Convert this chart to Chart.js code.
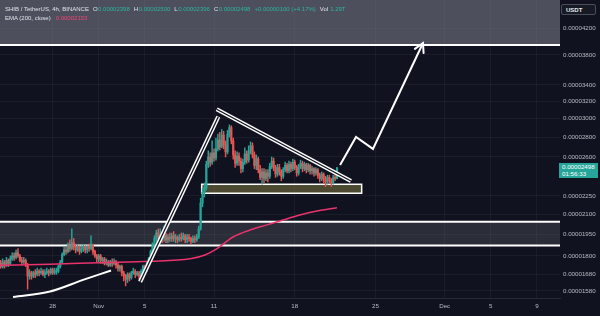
<!DOCTYPE html>
<html>
<head>
<meta charset="utf-8">
<script src="https://cdn.jsdelivr.net/npm/chart.js@4.4.1/dist/chart.umd.min.js"></script>
<style>
  html, body { margin: 0; padding: 0; background: #10131f; }
  #wrap { position: relative; width: 600px; height: 316px; overflow: hidden; }
  canvas { display: block; }
  #legend { position: absolute; left: 5px; top: 5px; font: 6px 'Liberation Sans', Arial, sans-serif; color: #e0e3ea; line-height: 8.5px; white-space: nowrap; }
  #legend .k { margin-left: 4px; }
  #legend .v { color: #2bb3a0; margin-left: 0.5px; }
  #legend .ema { color: #f0407a; margin-left: 5px; }
  #unit { position: absolute; left: 561px; top: 4px; width: 35px; height: 11px; border: 1px solid #4a4e5a; border-radius: 2px; background: #161a25;
          font: bold 6px 'Liberation Sans', Arial, sans-serif; color: #e8eaef; line-height: 11px; box-sizing: border-box; padding-left: 4px; }
  #priceTag { position: absolute; left: 559px; width: 39px; height: 15px; background: #26a69a; color: #fff;
              font: 6.2px 'Liberation Sans', Arial, sans-serif; line-height: 6.8px; padding: 1px 0 0 3px; box-sizing: border-box; }
</style>
</head>
<body>
<div id="wrap">
  <canvas id="chart" width="600" height="316"></canvas>
  <div id="legend">
    <div><span>SHIB / TetherUS, 4h, BINANCE</span><span class="k">O</span><span class="v" id="vO"></span><span class="k">H</span><span class="v" id="vH"></span><span class="k">L</span><span class="v" id="vL"></span><span class="k">C</span><span class="v" id="vC"></span><span class="v" id="vChg" style="margin-left:4px"></span><span class="k">Vol</span><span class="v" style="margin-left:2px">1.29T</span></div>
    <div><span>EMA (200, close)</span><span class="ema" id="vEma"></span></div>
  </div>
  <div id="unit">USDT</div>
  <div id="priceTag"><div id="tagPrice"></div><div>01:56:33</div></div>
</div>
<script>
// prices are in millionths of a USDT (17.5 = 0.00001750)
// 4h candles, first one Oct 23 12:00, x axis in days from Nov 1
const firstCandleDay = -8.5;
const candleStep = 1 / 6;

const opens = [
  17.5, 17.3, 17.6, 17.4, 17.7, 17.5, 17.8, 18.0, 17.9, 18.2,
  18.0, 17.7, 17.6, 17.7, 17.4, 16.7, 16.9, 16.7, 16.9, 16.8,
  17.0, 16.9, 17.0, 16.8, 16.9, 17.0, 16.9, 17.1, 16.9, 17.0,
  17.0, 17.3, 17.6, 18.1, 18.4, 18.3, 18.7, 18.5, 18.9, 18.6,
  18.4, 18.6, 18.3, 18.5, 18.6, 18.4, 18.6, 18.5, 18.7, 18.3,
  18.0, 17.8, 18.0, 17.7, 17.8, 17.5, 17.6, 17.4, 17.6, 17.5,
  17.6, 17.4, 17.2, 17.3, 16.9, 16.7, 16.5, 16.8, 16.6, 16.9,
  17.0, 16.8, 16.9, 16.7, 17.0, 17.3, 17.1, 17.5, 17.8, 18.3,
  18.8, 19.2, 19.6, 19.3, 19.5, 19.2, 19.4, 19.1, 19.3, 19.2,
  19.4, 19.2, 19.3, 19.1, 19.3, 19.2, 19.4, 19.1, 19.3, 19.2,
  19.0, 19.2, 19.1, 19.3, 19.9, 21.9, 22.8, 23.2, 25.3, 26.0,
  25.5, 26.4, 25.9, 26.8, 27.7, 27.0, 28.2, 27.2, 26.5, 28.3,
  29.0, 27.6, 26.2, 25.4, 26.1, 25.6, 24.9, 25.5, 26.3, 25.7,
  26.6, 27.1, 26.2, 25.2, 25.8, 24.8, 24.1, 24.6, 24.0, 24.5,
  24.2, 25.1, 25.6, 25.0, 24.4, 25.0, 24.6, 24.2, 24.8, 25.2,
  24.7, 25.3, 24.9, 25.5, 25.0, 24.5, 25.1, 25.4, 24.9, 25.3,
  24.8, 25.2, 24.7, 24.9, 24.5, 24.8, 24.3, 24.0, 24.4, 23.9,
  23.7, 24.1, 23.8, 23.6, 24.1, 23.98
];
const highs = [
  17.7, 17.8, 17.7, 17.9, 17.8, 18.0, 18.2, 18.2, 18.4, 18.5,
  18.1, 17.9, 17.9, 17.8, 17.5, 17.1, 17.0, 17.0, 17.1, 17.2,
  17.1, 17.2, 17.1, 17.1, 17.2, 17.1, 17.2, 17.2, 17.2, 17.2,
  17.4, 17.7, 18.2, 18.6, 18.6, 18.9, 19.1, 19.9, 19.2, 18.8,
  18.8, 18.7, 18.7, 18.8, 18.7, 18.7, 18.8, 19.4, 18.8, 18.4,
  18.1, 18.1, 18.1, 17.9, 17.9, 17.8, 17.7, 17.7, 17.8, 17.8,
  17.7, 17.5, 17.4, 17.4, 17.0, 16.8, 16.9, 16.9, 17.0, 17.2,
  17.1, 17.0, 17.0, 17.1, 17.4, 17.4, 17.6, 17.9, 18.4, 18.9,
  19.4, 19.8, 19.9, 19.9, 19.7, 20.1, 19.6, 19.5, 19.6, 19.6,
  19.7, 19.5, 19.4, 19.5, 19.6, 19.6, 19.5, 19.5, 19.5, 19.3,
  19.4, 19.4, 19.5, 20.1, 22.3, 23.1, 23.6, 25.6, 26.6, 26.4,
  27.6, 26.8, 27.9, 28.3, 28.5, 28.8, 28.6, 27.6, 28.7, 29.3,
  29.2, 27.9, 26.6, 26.5, 26.4, 25.9, 25.8, 26.9, 26.6, 27.1,
  27.5, 27.4, 26.5, 26.2, 26.0, 25.2, 24.9, 24.9, 24.8, 24.8,
  25.4, 26.0, 25.9, 25.2, 25.3, 25.3, 24.8, 25.0, 25.5, 25.4,
  25.6, 25.5, 25.8, 25.7, 25.2, 25.3, 25.7, 25.6, 25.5, 25.4,
  25.4, 25.3, 25.1, 25.0, 25.0, 24.9, 24.5, 24.6, 24.5, 24.2,
  24.3, 24.3, 24.0, 24.3, 24.4, 25.0
];
const lows = [
  17.2, 17.2, 17.2, 17.3, 17.3, 17.4, 17.7, 17.7, 17.8, 17.9,
  17.6, 17.4, 17.5, 17.3, 15.9, 16.5, 16.5, 16.6, 16.6, 16.7,
  16.7, 16.8, 16.7, 16.6, 16.8, 16.7, 16.8, 16.8, 16.8, 16.8,
  16.9, 17.2, 17.5, 18.0, 18.1, 18.2, 18.3, 18.4, 18.4, 18.2,
  18.3, 18.1, 18.2, 18.3, 18.2, 18.2, 18.3, 18.4, 18.1, 17.9,
  17.6, 17.6, 17.5, 17.5, 17.4, 17.4, 17.3, 17.3, 17.3, 17.4,
  17.2, 17.0, 17.0, 16.7, 16.4, 16.1, 16.3, 16.4, 16.5, 16.8,
  16.6, 16.7, 16.5, 16.6, 16.9, 17.0, 17.0, 17.4, 17.7, 18.2,
  18.7, 19.0, 19.1, 19.1, 18.9, 19.0, 18.9, 18.9, 19.0, 19.0,
  19.0, 18.9, 18.9, 19.0, 19.0, 19.1, 18.9, 18.9, 19.0, 18.8,
  18.9, 18.9, 19.0, 19.2, 19.8, 21.6, 22.4, 23.0, 25.0, 25.1,
  25.3, 25.6, 25.7, 26.6, 26.7, 26.9, 26.8, 26.0, 26.3, 28.0,
  27.3, 25.8, 25.0, 25.2, 25.2, 24.5, 24.6, 25.3, 25.4, 25.5,
  26.3, 25.9, 24.9, 24.8, 24.5, 23.9, 23.5, 23.6, 23.8, 23.7,
  24.0, 24.9, 24.7, 24.1, 24.2, 24.3, 23.8, 24.0, 24.6, 24.5,
  24.5, 24.6, 24.7, 24.8, 24.2, 24.3, 24.9, 24.6, 24.7, 24.5,
  24.6, 24.4, 24.4, 24.2, 24.3, 24.0, 23.7, 23.8, 23.6, 23.3,
  23.5, 23.6, 23.3, 23.5, 23.8, 23.96
];
const closes = [
  17.3, 17.6, 17.4, 17.7, 17.5, 17.8, 18.0, 17.9, 18.2, 18.0,
  17.7, 17.6, 17.7, 17.4, 16.7, 16.9, 16.7, 16.9, 16.8, 17.0,
  16.9, 17.0, 16.8, 16.9, 17.0, 16.9, 17.1, 16.9, 17.0, 17.0,
  17.3, 17.6, 18.1, 18.4, 18.3, 18.7, 18.5, 18.9, 18.6, 18.4,
  18.6, 18.3, 18.5, 18.6, 18.4, 18.6, 18.5, 18.7, 18.3, 18.0,
  17.8, 18.0, 17.7, 17.8, 17.5, 17.6, 17.4, 17.6, 17.5, 17.6,
  17.4, 17.2, 17.3, 16.9, 16.7, 16.5, 16.8, 16.6, 16.9, 17.0,
  16.8, 16.9, 16.7, 17.0, 17.3, 17.1, 17.5, 17.8, 18.3, 18.8,
  19.2, 19.6, 19.3, 19.5, 19.2, 19.4, 19.1, 19.3, 19.2, 19.4,
  19.2, 19.3, 19.1, 19.3, 19.2, 19.4, 19.1, 19.3, 19.2, 19.0,
  19.2, 19.1, 19.3, 19.9, 21.9, 22.8, 23.2, 25.3, 26.0, 25.5,
  26.4, 25.9, 26.8, 27.7, 27.0, 28.2, 27.2, 26.5, 28.3, 29.0,
  27.6, 26.2, 25.4, 26.1, 25.6, 24.9, 25.5, 26.3, 25.7, 26.6,
  27.1, 26.2, 25.2, 25.8, 24.8, 24.1, 24.6, 24.0, 24.5, 24.2,
  25.1, 25.6, 25.0, 24.4, 25.0, 24.6, 24.2, 24.8, 25.2, 24.7,
  25.3, 24.9, 25.5, 25.0, 24.5, 25.1, 25.4, 24.9, 25.3, 24.8,
  25.2, 24.7, 24.9, 24.5, 24.8, 24.3, 24.0, 24.4, 23.9, 23.7,
  24.1, 23.8, 23.6, 24.1, 23.98, 24.98
];

// EMA 200
const emaDays   = [-8.56, -4.22, 0.12, 4.45, 7.92, 9.22, 10.26, 11.64, 13.12, 14.59, 15.98, 17.45, 18.93, 20.66];
const emaValues = [17.38, 17.45, 17.55, 17.64, 17.81, 18.06, 18.49, 19.31, 19.82, 20.20, 20.57, 20.96, 21.27, 21.53];

const yTicks = [15.8, 16.8, 18, 19.5, 21, 22.5, 26, 28, 30, 32, 34, 38, 42];
const xTickDays = [-4, 0, 4, 10, 17, 24, 30, 34, 38];
const xTickLabels = ['28', 'Nov', '5', '11', '18', '25', 'Dec', '5', '9'];

// drawings (price levels / anchor points)
const resistanceZone = [39.43, 46.61];
const supportZone = [18.70, 20.44];
const baseBoxDays = [8.93, 22.8];
const baseBoxPrices = [22.72, 23.49];
const arcDays = [-7.43, -4.22, -1.36, 1.07];
const arcPrices = [15.45, 15.77, 16.46, 17.05];
const impulseDays = [3.59, 10.37];
const impulsePrices = [16.35, 30.20];
const wedgeDays = [10.23, 21.87];
const wedgePrices = [31.05, 23.78];
const pathDays = [20.93, 22.31, 23.78, 28.12];
const pathPrices = [25.24, 28.01, 26.79, 39.72];

const bg = '#10131f';
const gridColor = 'rgba(255,255,255,0.045)';
const labelColor = '#b9bcc4';
const upColor = '#26a69a';
const downColor = '#ef5350';
const emaColor = '#e8336d';

const fmt = v => (v / 1e6).toFixed(8);
const pts = (xs, ys) => xs.map((x, i) => ({ x, y: ys[i] }));

const candleDays = opens.map((_, i) => firstCandleDay + i * candleStep);
const candleColors = opens.map((o, i) => closes[i] >= o ? upColor : downColor);

// header values from the last candle
const last = closes.length - 1;
document.getElementById('vO').textContent = fmt(opens[last]);
document.getElementById('vH').textContent = fmt(highs[last]);
document.getElementById('vL').textContent = fmt(lows[last]);
document.getElementById('vC').textContent = fmt(closes[last]);
const chg = closes[last] - opens[last];
document.getElementById('vChg').textContent = '+' + fmt(chg) + ' (+' + (chg / opens[last] * 100).toFixed(2) + '%)';
document.getElementById('vEma').textContent = fmt(emaValues[emaValues.length - 1]);
document.getElementById('tagPrice').textContent = fmt(closes[last]);

const lineDs = (data, color, width, order, extra) => Object.assign({
  type: 'line', data, borderColor: color, borderWidth: width, pointRadius: 0,
  fill: false, tension: 0, order
}, extra || {});

const drawings = {
  id: 'drawings',
  beforeDatasetsDraw(chart) {
    const { ctx, chartArea: a, scales: { x, y } } = chart;
    ctx.save();
    ctx.beginPath();
    ctx.rect(a.left, a.top, a.width, a.height);
    ctx.clip();

    // top zone
    const rTop = y.getPixelForValue(resistanceZone[1]);
    const rBot = y.getPixelForValue(resistanceZone[0]);
    ctx.fillStyle = 'rgba(128,131,142,0.55)';
    ctx.fillRect(a.left, rTop, a.width, rBot - rTop);

    // support zone
    const sTop = y.getPixelForValue(supportZone[1]);
    const sBot = y.getPixelForValue(supportZone[0]);
    ctx.fillStyle = 'rgba(128,131,142,0.24)';
    ctx.fillRect(a.left, sTop, a.width, sBot - sTop);

    ctx.strokeStyle = '#ffffff';
    ctx.lineWidth = 2;
    [rBot, sTop, sBot].forEach(py => {
      ctx.beginPath();
      ctx.moveTo(a.left, py);
      ctx.lineTo(a.right, py);
      ctx.stroke();
    });

    // base box
    const bx1 = x.getPixelForValue(baseBoxDays[0]);
    const bx2 = x.getPixelForValue(baseBoxDays[1]);
    const by1 = y.getPixelForValue(baseBoxPrices[1]);
    const by2 = y.getPixelForValue(baseBoxPrices[0]);
    ctx.fillStyle = 'rgba(150,140,70,0.45)';
    ctx.fillRect(bx1, by1, bx2 - bx1, by2 - by1);
    ctx.lineWidth = 1.5;
    ctx.strokeRect(bx1, by1, bx2 - bx1, by2 - by1);
    ctx.restore();
  },
  afterDatasetsDraw(chart) {
    const { ctx } = chart;
    // arrow head at the end of the projected path
    const meta = chart.getDatasetMeta(chart.data.datasets.findIndex(d => d.label === 'path'));
    const p = meta.data;
    const tip = p[p.length - 1], prev = p[p.length - 2];
    const ang = Math.atan2(tip.y - prev.y, tip.x - prev.x);
    const len = 10;
    ctx.save();
    ctx.strokeStyle = '#ffffff';
    ctx.lineWidth = 2;
    ctx.lineCap = 'round';
    ctx.beginPath();
    ctx.moveTo(tip.x - len * Math.cos(ang - 0.5), tip.y - len * Math.sin(ang - 0.5));
    ctx.lineTo(tip.x, tip.y);
    ctx.lineTo(tip.x - len * Math.cos(ang + 0.5), tip.y - len * Math.sin(ang + 0.5));
    ctx.stroke();
    ctx.restore();
  },
  afterDraw(chart) {
    const py = chart.scales.y.getPixelForValue(closes[last]);
    document.getElementById('priceTag').style.top = (py - 4.5) + 'px';
  }
};

Chart.defaults.font.family = "'Liberation Sans', Arial, sans-serif";

new Chart(document.getElementById('chart'), {
  type: 'bar',
  data: {
    datasets: [
      lineDs(pts(pathDays, pathPrices), '#ffffff', 2, 0, { label: 'path', borderJoinStyle: 'miter' }),
      lineDs(pts(impulseDays, impulsePrices), bg, 1.3, 1),
      lineDs(pts(wedgeDays, wedgePrices), bg, 1.3, 1),
      lineDs(pts(impulseDays, impulsePrices), '#ffffff', 4.2, 2),
      lineDs(pts(wedgeDays, wedgePrices), '#ffffff', 4.2, 2),
      lineDs(pts(arcDays, arcPrices), '#ffffff', 2, 2, { tension: 0.4, cubicInterpolationMode: 'monotone' }),
      lineDs(pts(emaDays, emaValues), emaColor, 1.5, 3, { tension: 0.4, cubicInterpolationMode: 'monotone' }),
      {
        type: 'bar', label: 'body', order: 4, grouped: false,
        data: candleDays.map((d, i) => ({ x: d, y: [opens[i], closes[i]] })),
        backgroundColor: candleColors, barThickness: 1.5, minBarLength: 1
      },
      {
        type: 'bar', label: 'wick', order: 5, grouped: false,
        data: candleDays.map((d, i) => ({ x: d, y: [lows[i], highs[i]] })),
        backgroundColor: candleColors, barThickness: 0.8
      }
    ]
  },
  options: {
    responsive: false,
    animation: false,
    events: [],
    layout: { padding: 0 },
    plugins: { legend: { display: false }, tooltip: { enabled: false } },
    scales: {
      x: {
        type: 'linear', min: -8.56, max: 40, offset: false,
        grid: { color: gridColor, drawTicks: false, offset: false },
        border: { display: true, color: '#252936' },
        afterBuildTicks: s => { s.ticks = xTickDays.map(v => ({ value: v })); },
        afterFit: s => { s.height = 18; s.paddingLeft = 0; s.paddingRight = 0; },
        ticks: {
          autoSkip: false, maxRotation: 0, padding: 5, color: labelColor, font: { size: 6.2 },
          callback: v => { const k = xTickDays.indexOf(v); return k >= 0 ? xTickLabels[k] : ''; }
        }
      },
      y: {
        type: 'logarithmic', position: 'right', min: 15.39, max: 46.61,
        grid: { color: gridColor, drawTicks: false },
        border: { display: false },
        afterBuildTicks: s => { s.ticks = yTicks.map(v => ({ value: v })); },
        afterFit: s => { s.width = 40; s.paddingTop = 0; s.paddingBottom = 0; },
        ticks: { autoSkip: false, padding: 3, color: labelColor, font: { size: 6.2 }, callback: v => fmt(v) }
      }
    }
  },
  plugins: [drawings]
});
</script>
</body>
</html>
